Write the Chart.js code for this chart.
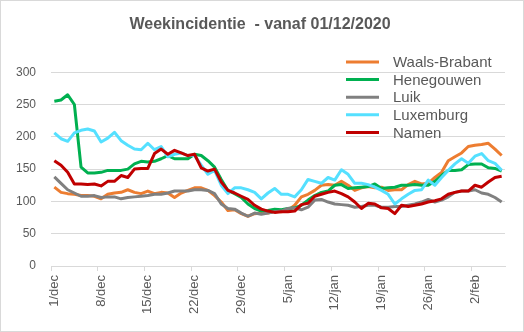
<!DOCTYPE html>
<html>
<head>
<meta charset="utf-8">
<script src="https://cdn.jsdelivr.net/npm/chart.js@4.4.1/dist/chart.umd.min.js"></script>
<style>
  html, body { margin: 0; padding: 0; background: #fff; }
  #wrap { position: relative; width: 524px; height: 332px; }
  #frame { position: absolute; left: 0; top: 0; width: 522px; height: 330px; border: 1px solid #d9d9d9; pointer-events: none; }
</style>
</head>
<body>
<div id="wrap">
  <canvas id="myChart" width="524" height="332"></canvas>
  <div id="frame"></div>
</div>
<script>
// one category per day, 1 dec 2020 .. 6 feb 2021
const monthNames = ["dec", "jan", "feb"];
const monthDays = [31, 31, 28];
const dayCount = 68;

const waalsBrabant = [
  122, 114, 112, 111, 109, 109, 108, 104, 111, 113, 114, 118, 114, 112, 116, 112, 114,
  113, 106, 113, 117, 121, 121, 117, 109, 99, 86, 87, 81, 77, 81, 82, 82, 85,
  84, 86, 94, 107, 111, 117, 125, 126, 125, 131, 125, 117, 121, 123, 121, 122, 117,
  118, 118, 126, 131, 127, 128, 137, 145, 163, 169, 175, 185, 187, 188, 190, 181, 171
];
const henegouwen = [
  255, 257, 265, 250, 153, 144, 144, 145, 148, 148, 148, 150, 158, 162, 161, 162, 166,
  171, 166, 166, 166, 173, 171, 163, 153, 134, 117, 112, 106, 96, 89, 85, 86, 88,
  87, 89, 90, 94, 102, 109, 114, 116, 125, 126, 120, 121, 122, 123, 127, 120, 121,
  122, 125, 125, 126, 125, 125, 131, 140, 148, 148, 149, 157, 158, 158, 152, 151, 147
];
const luik = [
  138, 128, 118, 113, 108, 108, 109, 106, 107, 107, 104, 106, 107, 108, 109, 111, 111,
  113, 116, 116, 116, 118, 118, 117, 112, 96, 89, 88, 82, 77, 82, 80, 82, 84,
  85, 89, 90, 87, 91, 102, 103, 99, 96, 95, 94, 91, 92, 94, 94, 91, 91,
  92, 92, 94, 96, 99, 103, 99, 102, 107, 114, 116, 116, 118, 113, 111, 106, 99
];
const luxemburg = [
  206, 197, 193, 206, 210, 212, 209, 192, 198, 207, 194, 187, 181, 180, 190, 180, 185,
  169, 173, 175, 171, 171, 156, 142, 148, 125, 112, 121, 121, 118, 114, 104, 113, 120,
  111, 111, 107, 118, 134, 131, 128, 137, 133, 149, 142, 128, 128, 126, 122, 117, 111,
  96, 104, 111, 117, 118, 133, 125, 137, 148, 158, 166, 159, 170, 174, 163, 159, 148
];
const namen = [
  163, 156, 145, 127, 127, 126, 127, 124, 131, 131, 140, 137, 150, 151, 151, 174, 181,
  173, 179, 175, 171, 173, 152, 147, 150, 130, 117, 113, 108, 103, 94, 88, 85, 83,
  84, 84, 85, 95, 97, 108, 111, 114, 116, 112, 107, 99, 89, 97, 96, 90, 89,
  81, 94, 92, 94, 96, 99, 101, 104, 111, 114, 116, 116, 125, 122, 130, 137, 139
];

const seriesNames = ["Waals-Brabant", "Henegouwen", "Luik", "Luxemburg", "Namen"];
const seriesColors = ["#ED7D31", "#00B050", "#808080", "#55E0FF", "#C00000"];

const days = [];
let m = 0, d = 1;
for (let i = 0; i < dayCount; i++) {
  days.push(d + "/" + monthNames[m]);
  d++;
  if (d > monthDays[m]) { d = 1; m++; }
}

const allSeries = [waalsBrabant, henegouwen, luik, luxemburg, namen];
const datasets = allSeries.map((values, i) => ({
  label: seriesNames[i],
  data: values,
  borderColor: seriesColors[i],
  backgroundColor: seriesColors[i],
  borderWidth: 3,
  pointRadius: 0,
  tension: 0,
  borderJoinStyle: "round",
  fill: false,
  order: allSeries.length - 1 - i
}));

// legend drawn over the plot, like the original
const legendInPlot = {
  id: "legendInPlot",
  afterDraw(chart) {
    const ctx = chart.ctx;
    ctx.save();
    ctx.font = "15px 'Liberation Sans', Arial, sans-serif";
    ctx.textBaseline = "middle";
    ctx.textAlign = "left";
    chart.data.datasets.forEach((ds, i) => {
      const y = 62 + i * 17.6;
      ctx.strokeStyle = ds.borderColor;
      ctx.lineWidth = 3;
      ctx.beginPath();
      ctx.moveTo(346, y);
      ctx.lineTo(379, y);
      ctx.stroke();
      ctx.fillStyle = "#595959";
      ctx.fillText(ds.label, 393, y + 1);
    });
    ctx.restore();
  }
};

Chart.defaults.font.family = "'Liberation Sans', Arial, sans-serif";
Chart.defaults.color = "#595959";

new Chart("myChart", {
  type: "line",
  data: {
    labels: days,
    datasets: datasets
  },
  options: {
    responsive: false,
    animation: false,
    layout: { padding: { left: 15, right: 19, top: 0, bottom: 0 } },
    plugins: {
      legend: { display: false },
      tooltip: { enabled: false },
      title: {
        display: true,
        text: "Weekincidentie  - vanaf 01/12/2020",
        color: "#595959",
        font: { size: 16, weight: "bold" },
        padding: { top: 15, bottom: 38 }
      }
    },
    scales: {
      x: {
        offset: true,
        afterFit: scale => { scale.height = 66; },
        grid: {
          offset: true,
          drawOnChartArea: false,
          tickLength: 5,
          color: ctx => (ctx.index % 7 === 0 ? "#d9d9d9" : "rgba(0,0,0,0)")
        },
        border: { color: "#d9d9d9" },
        ticks: {
          autoSkip: false,
          minRotation: 90,
          maxRotation: 90,
          padding: 4,
          font: { size: 13 },
          color: "#595959",
          callback: function (value, index) {
            return index % 7 === 0 ? this.getLabelForValue(value) : "";
          }
        }
      },
      y: {
        min: 0,
        max: 300,
        afterFit: scale => { scale.width = 36; },
        ticks: { stepSize: 50, padding: 15, font: { size: 12 }, color: "#595959" },
        grid: { color: "#d9d9d9", drawTicks: false },
        border: { display: false }
      }
    }
  },
  plugins: [legendInPlot]
});
</script>
</body>
</html>
